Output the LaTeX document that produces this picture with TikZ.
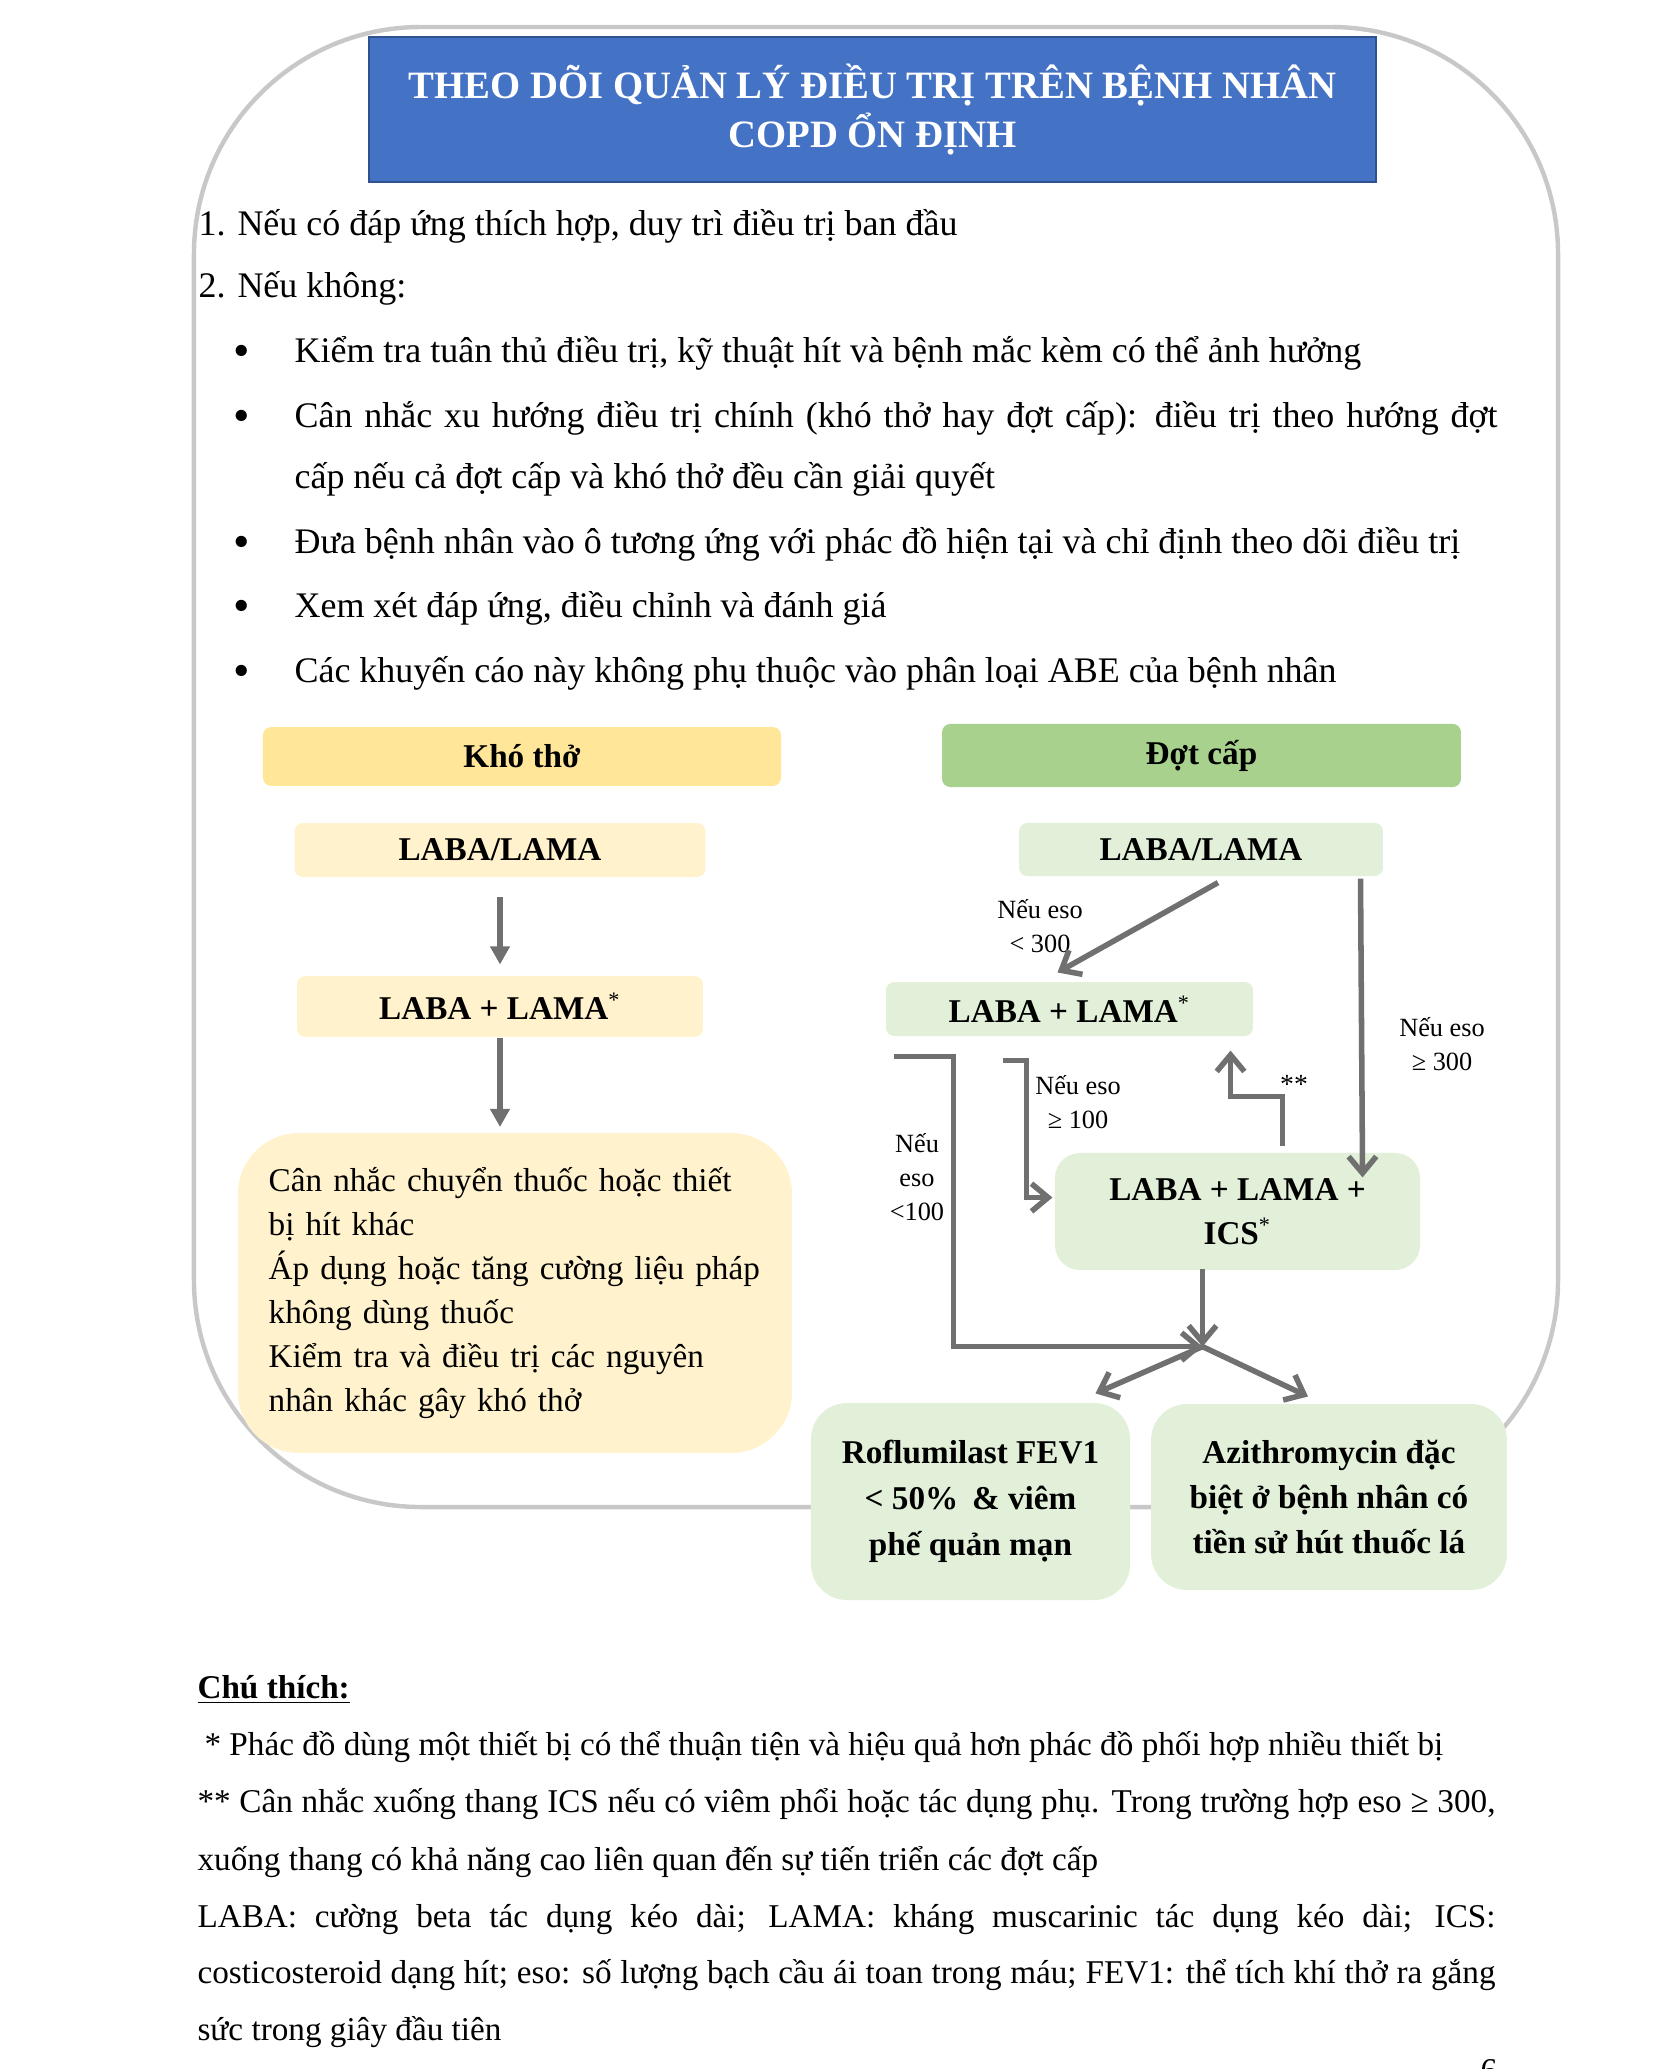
\documentclass[tikz,border=0pt]{standalone}
\usepackage{fontspec}
\setmainfont{Liberation Serif}
\usetikzlibrary{positioning,arrows.meta,calc}

\definecolor{titleblue}{HTML}{4472C4}
\definecolor{titleedge}{HTML}{2F528F}
\definecolor{khohead}{HTML}{FFE699}
\definecolor{khofill}{HTML}{FFF2CC}
\definecolor{dothead}{HTML}{A9D18E}
\definecolor{dotfill}{HTML}{E2F0D9}
\definecolor{arrgray}{RGB}{112,112,112}
\definecolor{framegray}{RGB}{200,200,200}

\begin{document}
\begin{tikzpicture}[
      x=0.36135pt, y=-0.36135pt,
      frm/.style  = {rectangle, draw=framegray, line width=1.6pt, rounded corners=82pt, inner sep=0pt},
      ttl/.style  = {rectangle, fill=titleblue, draw=titleedge, line width=1pt, inner sep=0pt,
                     text=white, align=center, font=\fontsize{14}{17.7}\selectfont\bfseries},
      bx/.style   = {rectangle, rounded corners=3pt, inner sep=0pt, align=center,
                     font=\fontsize{12}{16.5}\selectfont\bfseries},
      lst/.style  = {anchor=base west, inner sep=0pt, font=\fontsize{13}{15}\selectfont},
      fn/.style   = {anchor=base west, inner sep=0pt, font=\fontsize{12}{14}\selectfont},
      lbl/.style  = {inner sep=0pt, align=center, font=\fontsize{9.5}{12.3}\selectfont},
      tarr/.style = {draw=arrgray, line width=2.3pt, -{Triangle[length=6.5pt,width=6.8pt]}},
      oarr/.style = {draw=arrgray, line width=2pt, -{Straight Barb[length=6pt,width=10pt]}},
    ]
    \useasboundingbox (0,0) rectangle (1653,2069);

    % frame and title
    \node[frm, minimum width=492.9pt, minimum height=534.8pt] (frame) at (876,767) {};
    \node[ttl, minimum width=363.9pt, minimum height=52.4pt] (title) at (872.5,109.5)
      {THEO DÕI QUẢN LÝ ĐIỀU TRỊ TRÊN BỆNH NHÂN\\COPD ỔN ĐỊNH};

    % list
    \node[lst] (it1) at (198,235) {1. Nếu có đáp ứng thích hợp, duy trì điều trị ban đầu};
    \node[lst] (it2) at (198,297) {2. Nếu không:};
    \foreach \yy in {362,427,553,617,682}
      \node[lst, anchor=base] at (242,\yy) {\fontsize{17}{17}\selectfont\raisebox{-1.6pt}{\textbullet}};
    \node[lst] (b1) at (294,362) {Kiểm tra tuân thủ điều trị, kỹ thuật hít và bệnh mắc kèm có thể ảnh hưởng};
    \node[lst] (b2) at (294,427) {\makebox[434.7pt][s]{Cân nhắc xu hướng điều trị chính (khó thở hay đợt cấp): điều trị theo hướng đợt}};
    \node[lst] (b2b) at (294,488) {cấp nếu cả đợt cấp và khó thở đều cần giải quyết};
    \node[lst] (b3) at (294,553) {Đưa bệnh nhân vào ô tương ứng với phác đồ hiện tại và chỉ định theo dõi điều trị};
    \node[lst] (b4) at (294,617) {Xem xét đáp ứng, điều chỉnh và đánh giá};
    \node[lst] (b5) at (294,682) {Các khuyến cáo này không phụ thuộc vào phân loại ABE của bệnh nhân};

    % khó thở column
    \node[bx, fill=khohead, minimum width=187.2pt, minimum height=21.3pt] (kho) at (522,756.5) {Khó thở};
    \node[bx, fill=khofill, minimum width=148.5pt, minimum height=19.5pt] (kLA) at (500,850) {LABA/LAMA};
    \node[bx, fill=khofill, minimum width=146.7pt, minimum height=22pt] (kLL) at (500,1006.5)
      {LABA + LAMA\textsuperscript{\mdseries*}};
    \node[bx, fill=khofill, rounded corners=22pt, minimum width=200.2pt, minimum height=115.6pt,
          text width=178pt, inner xsep=11pt, align=left,
          font=\fontsize{12}{15.9}\selectfont] (kbox) at (515,1293)
      {Cân nhắc chuyển thuốc hoặc thiết\\bị hít khác\\Áp dụng hoặc tăng cường liệu pháp\\không dùng thuốc\\Kiểm tra và điều trị các nguyên\\nhân khác gây khó thở};

    % đợt cấp column
    \node[bx, fill=dothead, minimum width=187.5pt, minimum height=22.8pt] (dot) at (1201.5,755.5) {Đợt cấp};
    \node[bx, fill=dotfill, minimum width=131.5pt, minimum height=19.2pt] (dLA) at (1201,849.5) {LABA/LAMA};
    \node[bx, fill=dotfill, minimum width=132.6pt, minimum height=19.5pt] (dLL) at (1069.5,1009)
      {LABA + LAMA\textsuperscript{\mdseries*}};
    \node[bx, fill=dotfill, rounded corners=9pt, minimum width=131.9pt, minimum height=42.3pt,
          font=\fontsize{12}{16}\selectfont\bfseries] (dICS) at (1237.5,1211.5)
      {LABA + LAMA +\\ICS\textsuperscript{\mdseries*}};
    \node[bx, fill=dotfill, rounded corners=13pt, minimum width=115.3pt, minimum height=71.2pt,
          font=\fontsize{12}{16.6}\selectfont\bfseries] (rofl) at (970.5,1501.5)
      {Roflumilast FEV1\\< 50\%\hspace{5pt}\& viêm\\phế quản mạn};
    \node[bx, fill=dotfill, rounded corners=13pt, minimum width=128.6pt, minimum height=67.2pt,
          font=\fontsize{12}{16.4}\selectfont\bfseries] (azi) at (1329,1497)
      {Azithromycin đặc\\biệt ở bệnh nhân có\\tiền sử hút thuốc lá};

    % labels
    \node[lbl] (q300) at (1040,926) {Nếu eso\\< 300};
    \node[lbl] (g300) at (1442,1044) {Nếu eso\\≥ 300};
    \node[lbl] (g100) at (1078,1102) {Nếu eso\\≥ 100};
    \node[lbl] (l100) at (917,1177) {Nếu\\eso\\<100};
    \node[lbl, font=\fontsize{10}{12}\selectfont] (dstar) at (1294,1084) {**};

    % arrows, khó thở
    \draw[tarr] ([yshift=-6.9pt]kLA.south) -- ([yshift=4pt]kLL.north);
    \draw[tarr] (kLL.south) -- ([yshift=2pt]kLL.south |- kbox.north);

    % arrows, đợt cấp
    \coordinate (mrg) at ($(dICS.south)+(-35,76)$);
    \draw[oarr] ($(dLA.south)+(17,6)$) -- ($(dLL.north)+(-12,-9)$);
    \draw[oarr] ($(dLA.south east)+(-23,2)$) -- ($(dICS.north east)+(-58,25)$);
    \draw[oarr] ($(dLL.south)+(-67,24)$) -- ++(24,0) |- ($(dICS.west)+(-2,-14)$);
    \draw[oarr] ($(dICS.north)+(45,-6)$) -- ++(0,-50) -| ($(dLL.south east)+(-23,14)$);
    \draw[oarr] ($(dLL.south west)+(9,20)$) -- ++(59,0) |- (mrg);
    \draw[oarr] ($(dICS.south)+(-35,-2)$) -- (mrg);
    \draw[oarr] (mrg) -- ($(rofl.north)+(125,-9)$);
    \draw[oarr] (mrg) -- ($(azi.north)+(-21,-7)$);

    % notes
    \node[fn] (ct) at (197,1698) {\textbf{\underline{Chú thích:}}};
    \node[fn] (f1) at (204,1755) {* Phác đồ dùng một thiết bị có thể thuận tiện và hiệu quả hơn phác đồ phối hợp nhiều thiết bị};
    \node[fn] (f2) at (197,1812) {\makebox[469pt][s]{** Cân nhắc xuống thang ICS nếu có viêm phổi hoặc tác dụng phụ. Trong trường hợp eso ≥ 300,}};
    \node[fn] (f2b) at (197,1870) {xuống thang có khả năng cao liên quan đến sự tiến triển các đợt cấp};
    \node[fn] (f3) at (197,1927) {\makebox[469pt][s]{LABA: cường beta tác dụng kéo dài; LAMA: kháng muscarinic tác dụng kéo dài; ICS:}};
    \node[fn] (f3b) at (197,1983) {\makebox[469pt][s]{costicosteroid dạng hít; eso: số lượng bạch cầu ái toan trong máu; FEV1: thể tích khí thở ra gắng}};
    \node[fn] (f3c) at (197,2040) {sức trong giây đầu tiên};
    \node[fn, anchor=north] (pgno) at (1489,2059) {6};
  \end{tikzpicture}
\end{document}
